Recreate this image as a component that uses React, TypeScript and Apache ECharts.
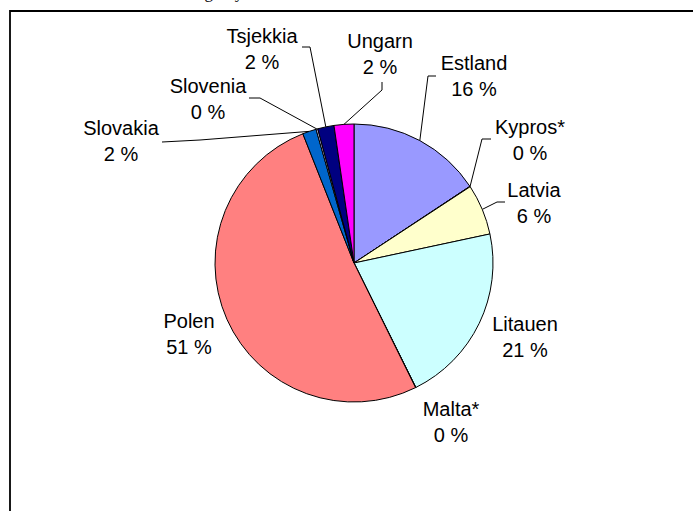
import React, { useEffect, useRef } from "react";
import * as echarts from "echarts";

const categories = ["Estland", "Kypros*", "Latvia", "Litauen", "Malta*", "Polen", "Slovakia", "Slovenia", "Tsjekkia", "Ungarn"];
const values = [15.7, 0.05, 5.9, 21.0, 0.05, 51.3, 1.6, 0.2, 1.9, 2.3];
const colors = ["#9999FF", "#993366", "#FFFFCC", "#CCFFFF", "#660066", "#FF8080", "#0066CC", "#CCCCFF", "#000080", "#FF00FF"];
const noLeader = ["Litauen", "Malta*", "Polen"];
const headerText = "Innvandring i nye EU-land";

// label layout (positions only)
const CX = 354;
const CY = 263;
const R = 139;
const labelSpots: Record<string, { c: [number, number]; line?: [number, number][] }> = {
  Estland: { c: [474, 76], line: [[428, 76], [436, 76]] },
  "Kypros*": { c: [530, 140], line: [[482, 139], [491, 139]] },
  Latvia: { c: [534, 203], line: [[497, 202], [505, 202]] },
  Litauen: { c: [525, 337] },
  "Malta*": { c: [451, 422] },
  Polen: { c: [189, 334] },
  Slovakia: { c: [121, 141], line: [[200, 140], [162, 142]] },
  Slovenia: { c: [208, 99], line: [[260, 98], [249, 98]] },
  Tsjekkia: { c: [262, 49], line: [[310, 47], [302, 47]] },
  Ungarn: { c: [380, 54], line: [[382, 90], [382, 82]] },
};

export default function App() {
  const ref = useRef<HTMLDivElement>(null);
  useEffect(() => {
    if (!ref.current) return;
    const chart = echarts.init(ref.current, undefined, { renderer: "svg" });
    const total = values.reduce((a, b) => a + b, 0);
    const midAngles: number[] = [];
    let acc = 0;
    values.forEach((v) => {
      midAngles.push(((acc + v / 2) / total) * Math.PI * 2);
      acc += v;
    });
    chart.setOption({
      animation: false,
      backgroundColor: "#ffffff",
      graphic: [
        {
          type: "rect",
          z: -10,
          shape: { x: 10, y: 11, width: 720, height: 600 },
          style: { fill: "none", stroke: "#000", lineWidth: 1.8 },
        },
        {
          type: "text",
          x: 130,
          y: -8,
          style: {
            text: headerText,
            font: "17px 'Liberation Serif', 'Times New Roman', serif",
            fill: "#000",
            verticalAlign: "middle",
          },
        },
      ],
      series: [
        {
          type: "pie",
          center: [CX, CY],
          radius: R,
          startAngle: 90,
          clockwise: true,
          avoidLabelOverlap: false,
          itemStyle: { borderColor: "#000", borderWidth: 1 },
          label: {
            show: true,
            position: "outside",
            formatter: (p: any) => `${p.name}\n${Math.round(p.percent)} %`,
            fontFamily: "'Liberation Sans', Arial, sans-serif",
            fontSize: 20,
            lineHeight: 26,
            color: "#000",
            align: "center",
          },
          labelLine: { show: true, lineStyle: { color: "#000", width: 1 } },
          labelLayout: (params: any) => {
            const name = categories[params.dataIndex];
            const spot = labelSpots[name];
            const a = midAngles[params.dataIndex];
            const start: [number, number] = [CX + R * Math.sin(a), CY - R * Math.cos(a)];
            const out: any = {
              x: spot.c[0],
              y: spot.c[1],
              align: "center",
              verticalAlign: "middle",
            };
            if (spot.line) out.labelLinePoints = [start, spot.line[0], spot.line[1]];
            return out;
          },
          data: categories.map((name, i) => ({
            name,
            value: values[i],
            itemStyle: { color: colors[i] },
            labelLine: { show: !noLeader.includes(name) },
          })),
        },
      ],
    });
    return () => chart.dispose();
  }, []);
  return <div ref={ref} style={{ position: "absolute", left: 0, top: 0, width: 693, height: 511 }} />;
}
